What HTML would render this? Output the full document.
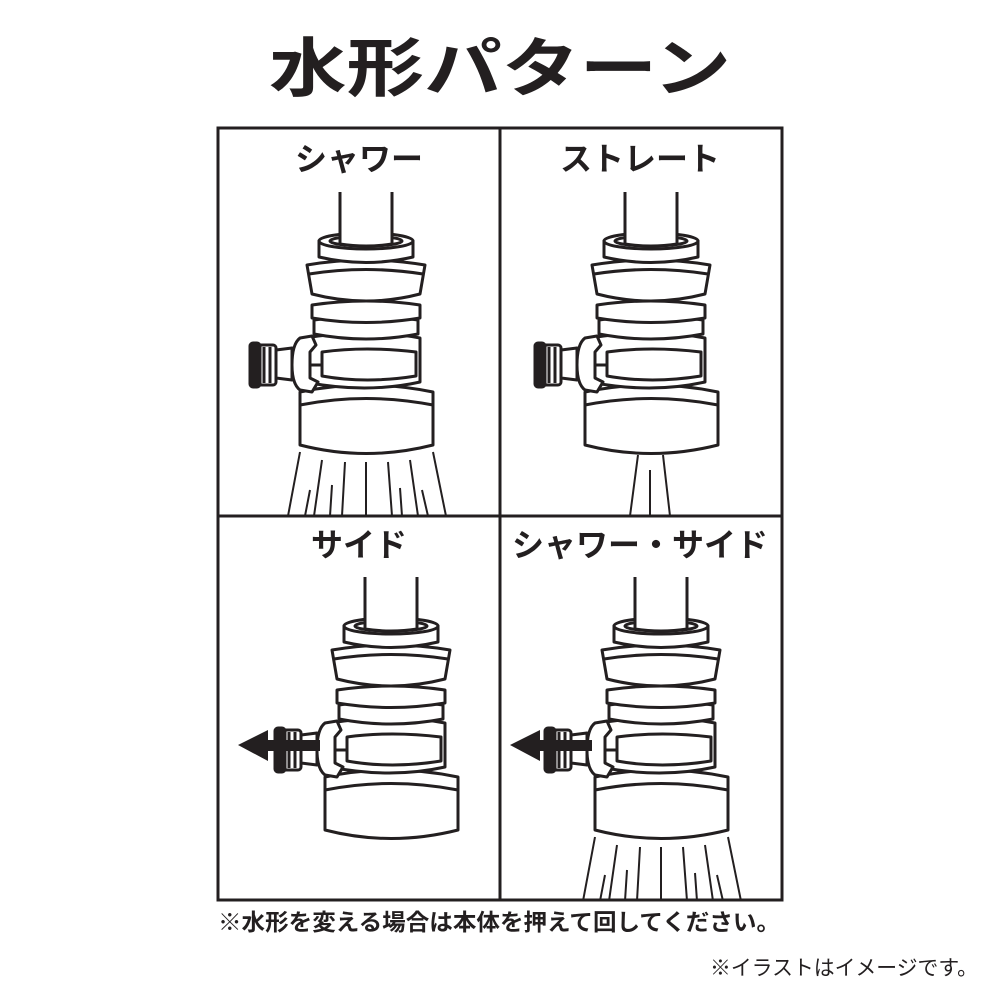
<!DOCTYPE html>
<html><head><meta charset="utf-8"><style>
html,body{margin:0;padding:0;background:#fff;}
svg{display:block}
text{font-family:"Liberation Sans","Noto Sans CJK JP",sans-serif;fill:#231f20}
</style></head><body>
<svg width="1000" height="1000" viewBox="0 0 1000 1000" xmlns="http://www.w3.org/2000/svg">
<defs>
<g id="dev" fill="#fff" stroke="#231f20" stroke-width="3" stroke-linejoin="round">
  <path d="M300,392 Q366,378 433,392 L433,445 Q366,462 300,445 Z"/>
  <path d="M300,405 Q366,392 433,405" fill="none"/>
  <path d="M305,338 Q366,328 420,338 L420,382 Q366,394 305,382 Z"/>
  <path d="M322,352 Q366,346 416,352 L416,376 Q366,384 322,376 Z"/>
  <path d="M305,365 L322,365" fill="none"/>
  <path d="M314,320 Q366,312 418,320 L418,334 Q366,344 314,334 Z"/>
  <path d="M312,305 Q366,297 420,305 L420,318 Q366,327 312,318 Z"/>
  <path d="M307,265 Q366,255 425,265 L420,294 Q366,308 312,294 Z"/>
  <path d="M309,274 Q366,265 423,274" fill="none"/>
  <path d="M319,241 L319,257 Q366,268 413,257 L413,241 Z"/>
  <ellipse cx="366" cy="241" rx="47" ry="8"/>
  <ellipse cx="366" cy="241" rx="36" ry="5"/>
  <path d="M340,192 L340,244 Q366,248 392,244 L392,192" />
  <path d="M300,338 L312,336 L316,345 L310,352 L310,378 L318,382 L312,392 L300,390 Q292,384 292,365 Q292,344 300,338 Z"/>
  <path d="M292,348 L276,350 L276,378 L292,380 Z"/>
  <rect x="258" y="345" width="18" height="40" rx="3"/>
  <rect x="250" y="343" width="10" height="44" rx="3" fill="#231f20"/>
  <line x1="264" y1="347" x2="264" y2="383"/><line x1="270" y1="347" x2="270" y2="383"/>
</g>
<g id="spray" fill="none" stroke="#231f20" stroke-width="2">
  <path d="M300,452 L288,516 M433,452 L446,516"/>
  <path d="M322,460 L314,516 M345,462 L342,516 M366,462 L366,516 M388,462 L392,516 M410,460 L418,516 M310,490 L305,516 M332,485 L330,516 M400,488 L402,516 M422,490 L428,516"/>
</g>
<g id="arrow"><path d="M238,745 L268,730 L268,740 L320,740 L320,751 L268,751 L268,761 Z" fill="#231f20"/></g>
</defs>

<text x="500" y="91" text-anchor="middle" font-size="64" font-weight="bold" textLength="462" lengthAdjust="spacingAndGlyphs">水形パターン</text>

<g fill="none" stroke="#231f20" stroke-width="3">
<rect x="218" y="128" width="564" height="772"/>
<line x1="500" y1="128" x2="500" y2="900"/>
<line x1="218" y1="516" x2="782" y2="516"/>
</g>

<text x="359" y="170" text-anchor="middle" font-size="32" font-weight="bold">シャワー</text>
<text x="640" y="170" text-anchor="middle" font-size="32" font-weight="bold">ストレート</text>
<text x="359" y="556" text-anchor="middle" font-size="32" font-weight="bold">サイド</text>
<text x="640" y="556" text-anchor="middle" font-size="32" font-weight="bold">シャワー・サイド</text>

<svg x="218" y="128" width="282" height="388" viewBox="218 128 282 388"><use href="#spray"/><use href="#dev"/></svg>
<svg x="500" y="128" width="282" height="388" viewBox="500 128 282 388">
  <path d="M638,455 L630,516 M663,455 L670,516 M650,470 L650,516" stroke="#231f20" stroke-width="2" fill="none"/>
  <use href="#dev" x="285"/></svg>
<svg x="218" y="516" width="282" height="384" viewBox="218 516 282 384"><use href="#dev" x="25" y="385"/><use href="#arrow"/></svg>
<svg x="500" y="516" width="282" height="384" viewBox="500 516 282 384"><use href="#spray" x="295" y="385"/><use href="#dev" x="295" y="385"/><use href="#arrow" x="272"/></svg>

<text x="218" y="930" font-size="23" font-weight="bold" textLength="562" lengthAdjust="spacingAndGlyphs">※水形を変える場合は本体を押えて回してください。</text>
<text x="710" y="975" font-size="21" textLength="268" lengthAdjust="spacingAndGlyphs">※イラストはイメージです。</text>
</svg>
</body></html>
